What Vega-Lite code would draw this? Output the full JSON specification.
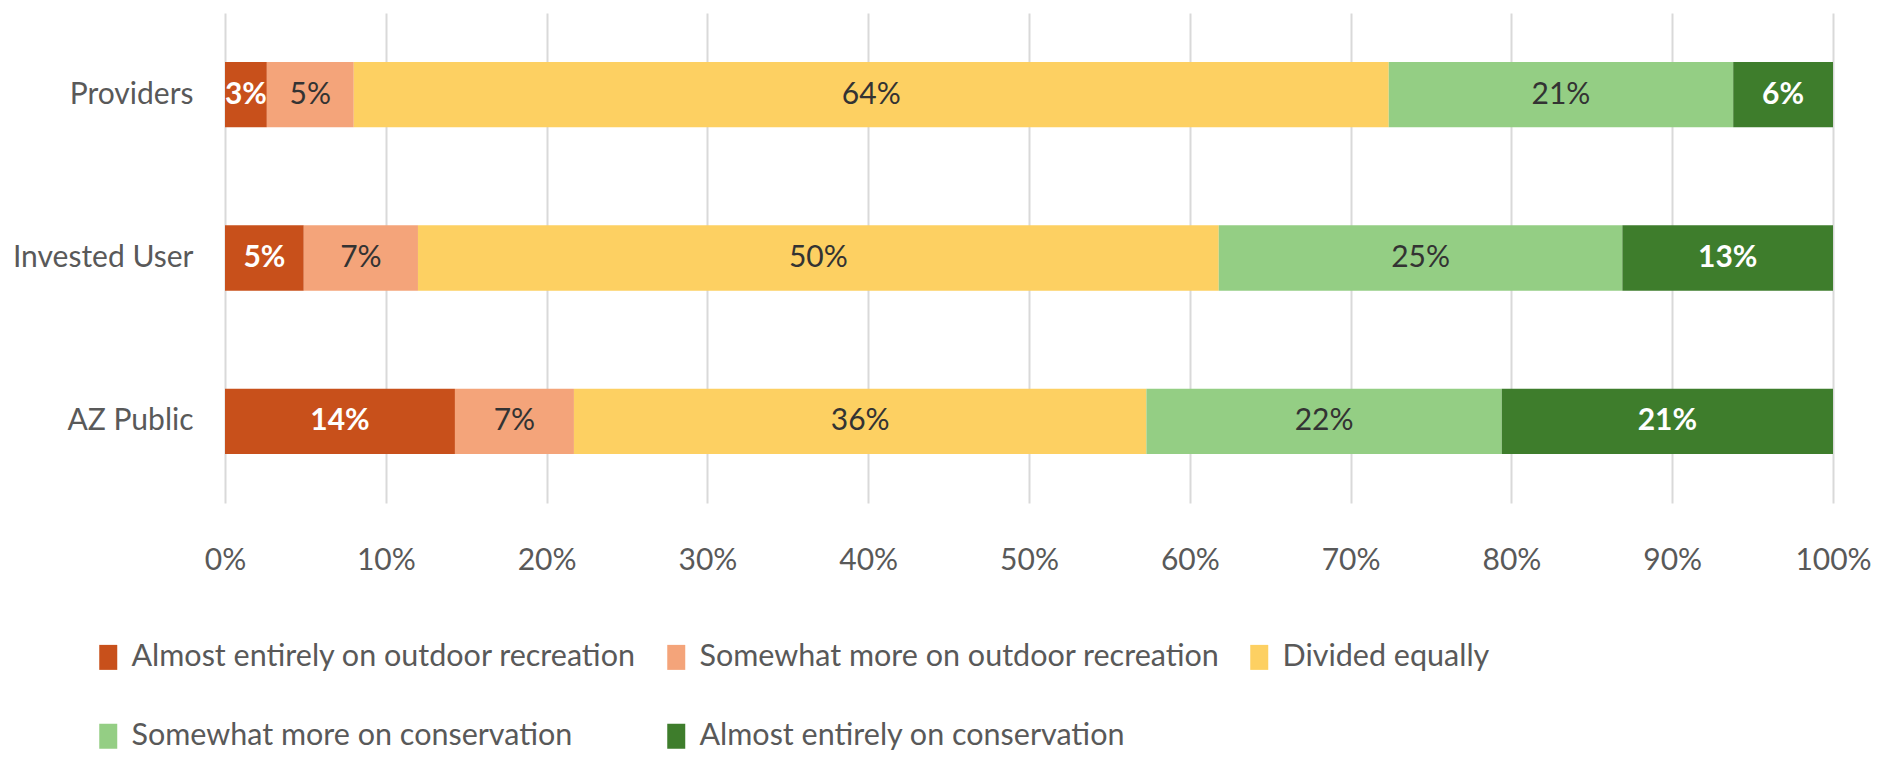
{
  "$schema": "https://vega.github.io/schema/vega-lite/v6.json",
  "width": 1608,
  "height": 490,
  "autosize": "none",
  "padding": {"left": 225, "top": 13, "right": 48, "bottom": 258},
  "background": "white",
  "config": {"font": "Lato", "view": {"stroke": null}},
  "data": {
    "values": [
      {"group": "Providers", "cat": "Almost entirely on outdoor recreation", "order": 1, "value": 0.026},
      {"group": "Providers", "cat": "Somewhat more on outdoor recreation", "order": 2, "value": 0.054},
      {"group": "Providers", "cat": "Divided equally", "order": 3, "value": 0.643},
      {"group": "Providers", "cat": "Somewhat more on conservation", "order": 4, "value": 0.214},
      {"group": "Providers", "cat": "Almost entirely on conservation", "order": 5, "value": 0.062},
      {"group": "Invested User", "cat": "Almost entirely on outdoor recreation", "order": 1, "value": 0.049},
      {"group": "Invested User", "cat": "Somewhat more on outdoor recreation", "order": 2, "value": 0.071},
      {"group": "Invested User", "cat": "Divided equally", "order": 3, "value": 0.498},
      {"group": "Invested User", "cat": "Somewhat more on conservation", "order": 4, "value": 0.251},
      {"group": "Invested User", "cat": "Almost entirely on conservation", "order": 5, "value": 0.131},
      {"group": "AZ Public", "cat": "Almost entirely on outdoor recreation", "order": 1, "value": 0.143},
      {"group": "AZ Public", "cat": "Somewhat more on outdoor recreation", "order": 2, "value": 0.074},
      {"group": "AZ Public", "cat": "Divided equally", "order": 3, "value": 0.356},
      {"group": "AZ Public", "cat": "Somewhat more on conservation", "order": 4, "value": 0.221},
      {"group": "AZ Public", "cat": "Almost entirely on conservation", "order": 5, "value": 0.206}
    ]
  },
  "transform": [
    {"stack": "value", "groupby": ["group"], "sort": [{"field": "order"}], "offset": "normalize", "as": ["v0", "v1"]}
  ],
  "encoding": {
    "y": {
      "field": "group",
      "type": "nominal",
      "sort": ["Providers", "Invested User", "AZ Public"],
      "scale": {"paddingInner": 0.6, "paddingOuter": 0.3},
      "axis": {"title": null, "domain": false, "ticks": false, "labelFontSize": 30, "labelColor": "#595959", "labelPadding": 32, "labelLimit": 0}
    }
  },
  "layer": [
    {
      "mark": {"type": "bar"},
      "encoding": {
        "x": {
          "field": "v0",
          "type": "quantitative",
          "scale": {"domain": [0, 1], "nice": false},
          "axis": {
            "title": null,
            "format": ".0%",
            "values": [0, 0.1, 0.2, 0.3, 0.4, 0.5, 0.6, 0.7, 0.8, 0.9, 1],
            "domain": false,
            "ticks": false,
            "grid": true,
            "gridColor": "#D9D9D9",
            "gridWidth": 2,
            "labelFontSize": 30,
            "labelColor": "#595959",
            "labelPadding": 42,
            "labelFlush": false
          }
        },
        "x2": {"field": "v1"},
        "color": {
          "field": "cat",
          "type": "nominal",
          "sort": [
            "Almost entirely on outdoor recreation",
            "Somewhat more on outdoor recreation",
            "Divided equally",
            "Somewhat more on conservation",
            "Almost entirely on conservation"
          ],
          "scale": {"range": ["#C8501B", "#F4A47A", "#FDD062", "#94CE84", "#3E7D2C"]},
          "legend": {
            "title": null,
            "orient": "none",
            "legendX": -132,
            "legendY": 629,
            "direction": "horizontal",
            "columns": 3,
            "padding": 0,
            "rowPadding": 48,
            "columnPadding": 24,
            "symbolType": "M-0.72,-1H0.72V1H-0.72Z",
            "symbolSize": 625,
            "symbolStrokeWidth": 0,
            "labelFontSize": 30.5,
            "labelColor": "#595959",
            "labelOffset": 8,
            "labelLimit": 0
          }
        }
      }
    },
    {
      "transform": [
        {"filter": "datum.order == 2 || datum.order == 3 || datum.order == 4"},
        {"fold": ["v0", "v1"], "as": ["edge", "pos"]},
        {"aggregate": [{"op": "mean", "field": "pos", "as": "mid"}], "groupby": ["group", "cat", "order", "value"]}
      ],
      "mark": {"type": "text", "fontSize": 30, "color": "#333333", "baseline": "middle"},
      "encoding": {
        "x": {"field": "mid", "type": "quantitative"},
        "text": {"field": "value", "type": "quantitative", "format": ".0%"}
      }
    },
    {
      "transform": [
        {"filter": "datum.order == 1 || datum.order == 5"},
        {"fold": ["v0", "v1"], "as": ["edge", "pos"]},
        {"aggregate": [{"op": "mean", "field": "pos", "as": "mid"}], "groupby": ["group", "cat", "order", "value"]}
      ],
      "mark": {"type": "text", "fontSize": 30, "fontWeight": "bold", "color": "white", "baseline": "middle"},
      "encoding": {
        "x": {"field": "mid", "type": "quantitative"},
        "text": {"field": "value", "type": "quantitative", "format": ".0%"}
      }
    }
  ]
}
